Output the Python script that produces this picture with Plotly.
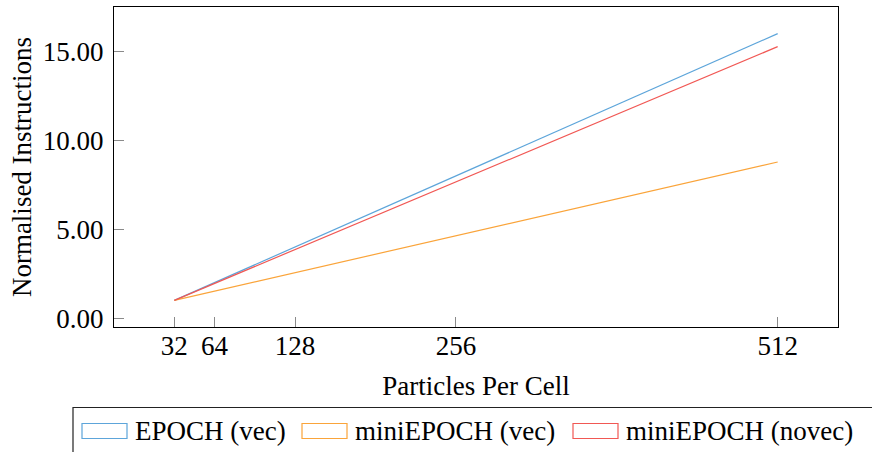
import plotly.graph_objects as go

ppc = [32, 64, 128, 256, 512]
epoch_vec = [1.0, 2.0, 4.0, 8.0, 16.0]
mini_vec = [1.0, 1.52, 2.56, 4.64, 8.78]
mini_novec = [1.0, 1.95, 3.86, 7.64, 15.27]
series_names = ["EPOCH (vec)", "miniEPOCH (vec)", "miniEPOCH (novec)"]
series_colors = ["#5DA5DA", "#FAA43A", "#F15854"]
x_ticks = [32, 64, 128, 256, 512]
y_ticks = [0, 5, 10, 15]
y_ticklabels = ["0.00", "5.00", "10.00", "15.00"]

W, H = 872, 452
ML, MR, MT, MB = 114, 34, 7, 125
PW, PH = W - ML - MR, H - MT - MB

def px(x):
    return (x - ML) / PW

def py(y):
    return (H - MB - y) / PH

FONT = "Liberation Serif"
FS = 27

fig = go.Figure()
for name, ys, col in zip(series_names, [epoch_vec, mini_vec, mini_novec], series_colors):
    fig.add_trace(go.Scatter(x=ppc, y=ys, mode="lines", name=name,
                             line=dict(color=col, width=1.2), showlegend=False))

fig.update_layout(
    width=W, height=H,
    margin=dict(l=ML, r=MR, t=MT, b=MB, pad=0),
    plot_bgcolor="white", paper_bgcolor="white",
    font=dict(family=FONT, size=FS, color="black"),
)
fig.update_xaxes(
    range=[-16, 560], tickvals=x_ticks, ticktext=[str(v) for v in x_ticks],
    ticks="inside", ticklen=10, tickcolor="#8a8a8a", tickwidth=1,
    showline=True, linecolor="black", linewidth=1, mirror=True,
    showgrid=False, zeroline=False,
    tickfont=dict(family=FONT, size=FS, color="black"),
    title=dict(text="Particles Per Cell", font=dict(family=FONT, size=FS, color="black"), standoff=15),
    ticklabelstandoff=-5,
)
fig.update_yaxes(
    range=[-0.5, 17.5], tickvals=y_ticks, ticktext=y_ticklabels,
    ticks="inside", ticklen=10, tickcolor="#8a8a8a", tickwidth=1,
    showline=True, linecolor="black", linewidth=1, mirror=True,
    showgrid=False, zeroline=False,
    tickfont=dict(family=FONT, size=FS, color="black"),
    title=dict(text="Normalised Instructions", font=dict(family=FONT, size=FS, color="black"), standoff=3),
    ticklabelstandoff=4,
)

# custom legend (pgfplots style, rectangle swatches)
shapes = [dict(type="rect", xref="paper", yref="paper",
               x0=px(73), x1=px(880), y0=py(470), y1=py(407.5),
               line=dict(color="#222", width=1.2), fillcolor="rgba(0,0,0,0)", layer="above")]
swatch_x = [82, 302, 573]
text_x = [133, 353, 624]
annotations = []
for name, col, sx, tx in zip(series_names, series_colors, swatch_x, text_x):
    shapes.append(dict(type="rect", xref="paper", yref="paper",
                       x0=px(sx), x1=px(sx + 45), y0=py(438.5), y1=py(423.5),
                       line=dict(color=col, width=1.2), fillcolor="rgba(0,0,0,0)"))
    annotations.append(dict(text=name, xref="paper", yref="paper",
                            x=px(tx), y=py(431), xanchor="left", yanchor="middle",
                            showarrow=False, font=dict(family=FONT, size=FS, color="black")))
fig.update_layout(shapes=shapes, annotations=annotations)

fig.write_html("out.html")
